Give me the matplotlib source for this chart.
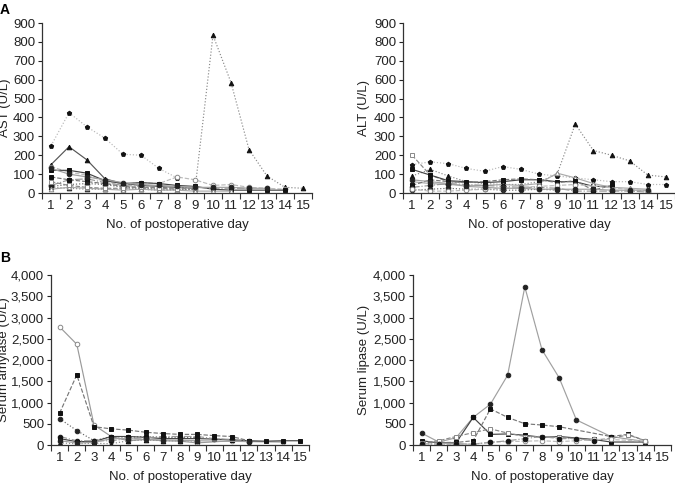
import numpy as np
import matplotlib
matplotlib.use('Agg')
import matplotlib.pyplot as plt
from matplotlib.ticker import FixedLocator, FuncFormatter

plt.rcParams['font.family'] = ['Liberation Sans', 'DejaVu Sans']

nan = np.nan
days = np.arange(1, 16)
day_labels = [str(d) for d in days]

# --- AST (U/L) ---
ast_a = [250, 425, 350, 290, 205, 200, 130, 80, nan, nan, nan, nan, nan, nan, nan]
ast_b = [150, 245, 175, 75, 50, 40, 35, 30, 25, nan, nan, nan, nan, nan, nan]
ast_c = [30, 25, 20, 20, 20, 20, 15, 15, 20, 835, 585, 230, 90, 30, 25]
ast_d = [140, 110, 95, 60, 45, 55, 50, 85, 70, 40, 45, 30, 25, 20, nan]
ast_e = [120, 120, 105, 65, 50, 55, 50, 40, 35, 20, 15, 15, 15, 15, nan]
ast_f = [85, 70, 60, 50, 35, 30, 30, 25, 30, nan, nan, nan, nan, nan, nan]
ast_g = [40, 70, 75, 55, 40, 35, 40, 30, 30, 25, nan, 25, nan, nan, nan]
ast_h = [35, 45, 50, 45, 30, 25, 20, 20, 20, nan, nan, nan, nan, nan, nan]
ast_i = [20, 30, 25, 20, 15, 20, 15, 15, 10, 10, 10, nan, nan, nan, nan]
ast_j = [60, 40, 30, 25, 25, 30, 25, 20, 25, nan, nan, nan, nan, nan, nan]
ast_k = [130, 100, 85, 70, 55, 45, 40, 35, 30, 30, 30, 25, 25, nan, nan]

# --- ALT (U/L) ---
alt_a = [150, 165, 155, 130, 115, 140, 125, 100, 90, 80, 70, 60, 60, 45, 45]
alt_b = [90, 125, 90, 60, 50, 45, 45, 60, 100, 365, 225, 200, 170, 95, 85]
alt_c = [200, 95, 60, 55, nan, nan, nan, nan, nan, nan, nan, nan, nan, nan, nan]
alt_d = [125, 95, 65, 60, 55, 60, 70, 70, 60, 60, 35, 35, nan, nan, nan]
alt_e = [60, 50, 45, 40, 40, 45, 40, 50, 105, 80, 50, 30, 25, 20, nan]
alt_f = [30, 40, 50, 45, 40, 35, 30, 30, 25, 10, 10, 10, 10, 5, nan]
alt_g = [15, 20, 25, 20, 20, 15, 15, 20, 15, nan, nan, nan, nan, nan, nan]
alt_h = [40, 70, 60, 55, 60, 70, 75, 70, 55, 65, 15, 40, nan, nan, nan]
alt_i = [20, 10, 10, 15, 20, 25, 30, 35, 40, 45, nan, nan, nan, 10, nan]
alt_j = [70, 60, 50, 35, 30, 25, 25, 20, 20, 20, 20, 15, 15, 15, nan]

# --- Serum amylase (U/L) ---
amy_a = [2780, 2370, 470, 200, 100, 130, 100, 90, 50, nan, 100, 80, nan, 70, nan]
amy_b = [750, 1650, 430, 380, 350, 300, 270, 250, 250, 220, 200, 100, nan, nan, nan]
amy_c = [620, 340, 100, 200, 180, 200, 180, 170, 180, nan, nan, nan, nan, nan, nan]
amy_d = [150, 80, 80, 200, 200, 180, 150, 150, 150, 140, 120, 100, 90, 100, 100]
amy_e = [200, 100, 100, 100, 150, 170, 200, 200, 200, 150, 130, 100, nan, nan, nan]
amy_f = [50, 30, 40, 30, 100, 120, 100, 100, 90, nan, nan, nan, nan, nan, nan]
amy_g = [100, 50, 60, 150, 150, 130, 120, 110, 100, nan, nan, 80, nan, nan, nan]

# --- Serum lipase (U/L) ---
lip_a = [280, 70, 170, 650, 960, 1640, 3720, 2240, 1580, 590, nan, 200, nan, 80, nan]
lip_b = [100, 50, 50, 650, 250, 260, 230, 180, 200, nan, 130, 70, nan, 70, nan]
lip_c = [60, 60, 60, 100, 850, 650, 500, 470, 430, nan, nan, 200, 250, 100, nan]
lip_d = [50, 100, 200, 290, 380, 280, 200, 200, 180, 150, 120, 150, 240, 100, nan]
lip_e = [20, 30, 20, 20, 70, 80, 90, 100, 80, 100, 130, 130, nan, 90, nan]
lip_f = [30, 20, 30, 20, 60, 100, 150, 200, 150, 150, 100, nan, nan, nan, nan]

# line / marker styles used by the series
styles = [
    dict(color='#b8b8b8', ls=':', marker='p', mfc='#111111', mec='#111111'),
    dict(color='#555555', ls='-', marker='^', mfc='#111111', mec='#111111'),
    dict(color='#888888', ls=':', marker='^', mfc='#111111', mec='#111111'),
    dict(color='#bbbbbb', ls='--', marker='o', mfc='white', mec='#888888'),
    dict(color='#444444', ls='-', marker='s', mfc='#111111', mec='#111111'),
    dict(color='#777777', ls='--', marker='s', mfc='#111111', mec='#111111'),
    dict(color='#999999', ls='-.', marker='o', mfc='#111111', mec='#111111'),
    dict(color='#666666', ls=':', marker='o', mfc='#222222', mec='#222222'),
    dict(color='#aaaaaa', ls='-', marker='^', mfc='white', mec='#888888'),
    dict(color='#888888', ls='--', marker='s', mfc='white', mec='#888888'),
    dict(color='#a0a0a0', ls='-', marker='o', mfc='#222222', mec='#222222'),
    dict(color='#9a9a9a', ls='-', marker='o', mfc='white', mec='#888888'),
]

panels = [
    dict(rect=[42/675, 1-193/486, 270/675, 170/486], ylim=900, yticks=range(0, 901, 100),
         label='AST (U/L)', labx=5, series=[ast_a, ast_b, ast_c, ast_d, ast_e, ast_f, ast_g, ast_h, ast_i, ast_j, ast_k],
         sty=[0, 1, 2, 3, 4, 5, 6, 7, 8, 9, 10]),
    dict(rect=[403/675, 1-193/486, 272/675, 170/486], ylim=900, yticks=range(0, 901, 100),
         label='ALT (U/L)', labx=364, series=[alt_a, alt_b, alt_c, alt_d, alt_e, alt_f, alt_g, alt_h, alt_i, alt_j],
         sty=[0, 2, 9, 4, 8, 6, 7, 5, 3, 10]),
    dict(rect=[51/675, 1-445/486, 258/675, 170/486], ylim=4000, yticks=range(0, 4001, 500),
         label='Serum amylase (U/L)', labx=4, series=[amy_a, amy_b, amy_c, amy_d, amy_e, amy_f, amy_g],
         sty=[11, 5, 7, 4, 6, 2, 10]),
    dict(rect=[413/675, 1-445/486, 258/675, 170/486], ylim=4000, yticks=range(0, 4001, 500),
         label='Serum lipase (U/L)', labx=364, series=[lip_a, lip_b, lip_c, lip_d, lip_e, lip_f],
         sty=[10, 4, 5, 9, 3, 6]),
]

fig = plt.figure(figsize=(6.75, 4.86), dpi=100)

for p in panels:
    ax = fig.add_axes(p['rect'])
    for data, si in zip(p['series'], p['sty']):
        y = np.array(data, dtype=float)
        m = np.isfinite(y)
        s = styles[si]
        ax.plot(days[m], y[m], color=s['color'], ls=s['ls'], lw=0.85,
                marker=s['marker'], ms=3.3, mfc=s['mfc'], mec=s['mec'], mew=0.7)
    ax.set_xlim(0.5, 15.5)
    ax.set_ylim(0, p['ylim'])
    ax.set_yticks(list(p['yticks']))
    ax.yaxis.set_major_formatter(FuncFormatter(lambda v, pos: f'{int(v):,}'))
    ax.set_xticks(days)
    ax.set_xticklabels(day_labels)
    ax.xaxis.set_minor_locator(FixedLocator(np.arange(0.5, 16, 1)))
    ax.tick_params(axis='x', which='major', length=0, pad=5, labelsize=9.5, colors='#222222')
    ax.tick_params(axis='x', which='minor', length=4, width=0.8, color='#333333')
    ax.tick_params(axis='y', length=3, width=0.8, pad=2, labelsize=9.5, colors='#222222')
    for sp in ['top', 'right']:
        ax.spines[sp].set_visible(False)
    for sp in ['left', 'bottom']:
        ax.spines[sp].set_linewidth(0.9)
        ax.spines[sp].set_color('#333333')
    ax.set_xlabel('No. of postoperative day', fontsize=9.5, color='#222222', labelpad=5)
    ymid = p['rect'][1] + p['rect'][3] / 2
    fig.text(p['labx'] / 675, ymid, p['label'], rotation=90, fontsize=9.5,
             color='#222222', ha='center', va='center')

fig.text(0 / 675, 1 - 10 / 486, 'A', fontsize=10, fontweight='bold', ha='left', va='center')
fig.text(0 / 675, 1 - 258 / 486, 'B', fontsize=10, fontweight='bold', ha='left', va='center')

fig.savefig('out.png', dpi=100)
